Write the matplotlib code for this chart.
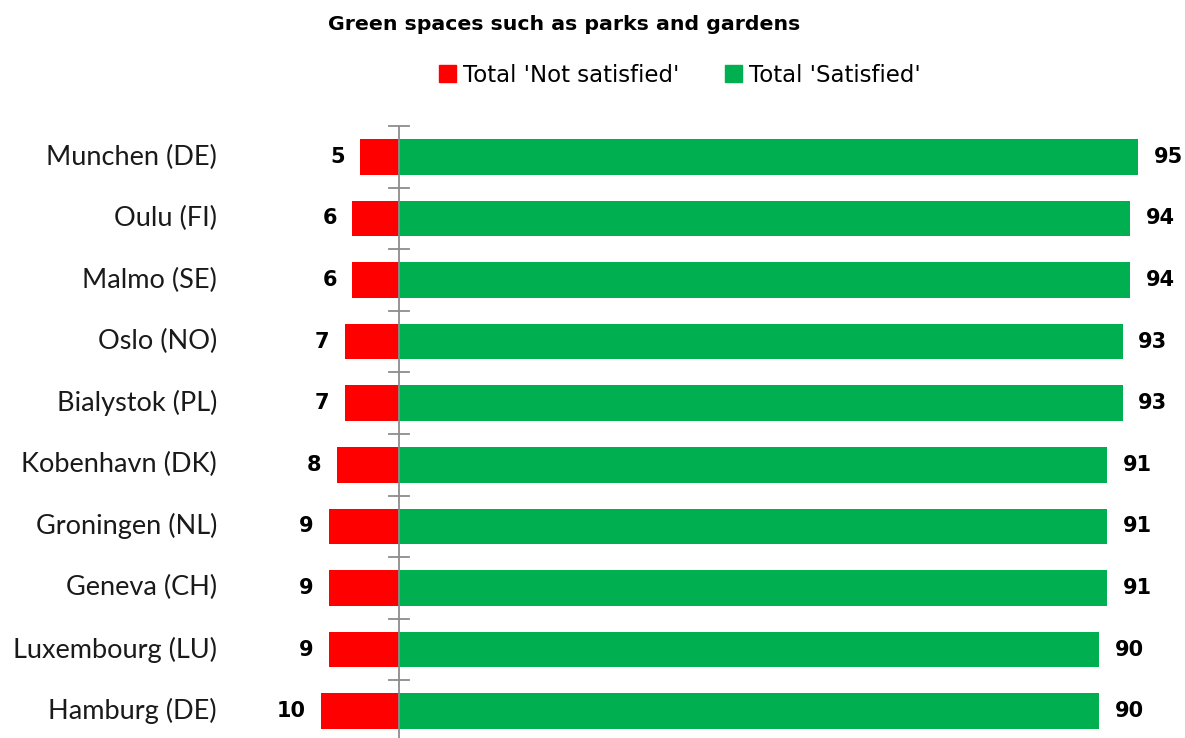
import matplotlib.pyplot as plt
from matplotlib.patches import Patch
import numpy as np

cities = ['Munchen (DE)', 'Oulu (FI)', 'Malmo (SE)', 'Oslo (NO)', 'Bialystok (PL)',
          'Kobenhavn (DK)', 'Groningen (NL)', 'Geneva (CH)', 'Luxembourg (LU)', 'Hamburg (DE)']
not_satisfied = [5, 6, 6, 7, 7, 8, 9, 9, 9, 10]
satisfied = [95, 94, 94, 93, 93, 91, 91, 91, 90, 90]

RED = '#FF0000'
GREEN = '#00B050'

W, H = 1185, 738
fig = plt.figure(figsize=(W / 100, H / 100), dpi=100)

# zero at x=399px, ~7.78 px per unit
xmin, xmax = -20, 100
ppu = 7.78
left_px = 399 + xmin * ppu
width_px = (xmax - xmin) * ppu
top_px, bottom_px = 126, 742
ax = fig.add_axes([left_px / W, (H - bottom_px) / H, width_px / W, (bottom_px - top_px) / H])

y = np.arange(len(cities))
ax.barh(y, [-v for v in not_satisfied], height=0.58, color=RED)
ax.barh(y, satisfied, height=0.58, color=GREEN)

ax.set_xlim(xmin, xmax)
ax.set_ylim(len(cities) - 0.5, -0.5)

for i, (n, s) in enumerate(zip(not_satisfied, satisfied)):
    ax.text(-n - 2.0, i, str(n), ha='right', va='center', fontsize=15,
            fontweight='bold', family='DejaVu Sans')
    ax.text(s + 2.0, i, str(s), ha='left', va='center', fontsize=15,
            fontweight='bold', family='DejaVu Sans')

for sp in ax.spines.values():
    sp.set_visible(False)
ax.set_xticks([])
ax.set_yticks([])
ax.axvline(0, color='#8c8c8c', lw=1.3)
for b in np.arange(-0.5, len(cities), 1.0):
    ax.plot([-1.3, 1.3], [b, b], color='#8c8c8c', lw=1.3, clip_on=False)

for i, c in enumerate(cities):
    fig.text(217 / W, (H - (157 + i * 61.56)) / H, c, ha='right', va='center',
             fontsize=19.5, family='Lato', color='#1a1a1a')

fig.text(564 / W, (H - 25) / H, 'Green spaces such as parks and gardens', ha='center',
         va='center', fontsize=14.75, fontweight='bold', family='DejaVu Sans')

handles = [Patch(color=RED, label="Total 'Not satisfied'"),
           Patch(color=GREEN, label="Total 'Satisfied'")]
fig.legend(handles=handles, loc='center', bbox_to_anchor=(680 / W, (H - 75) / H), ncol=2,
           frameon=False, prop={'family': 'DejaVu Sans', 'size': 16.5},
           handlelength=0.75, handleheight=0.75, handletextpad=0.3, columnspacing=2.0)

fig.savefig('out.png', dpi=100)
